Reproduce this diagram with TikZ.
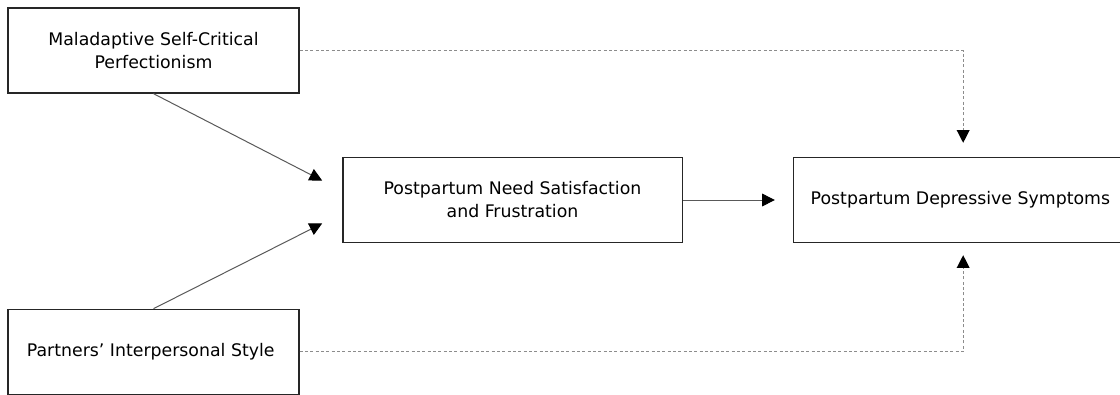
\documentclass[tikz,border=0pt]{standalone}
\usepackage{fontspec}
\setmainfont{DejaVu Sans}
\usetikzlibrary{positioning, arrows.meta, calc}

\begin{document}
\begin{tikzpicture}[
		x=0.75pt,
		y=-0.75pt,
		font=\fontsize{13}{17.25}\selectfont,
		factor/.style={
			rectangle,
			draw=black!85,
			line width=1pt,
			align=center,
			minimum width=218.25pt,
			minimum height=63.75pt,
			inner sep=2pt
		},
		widefactor/.style={
			factor,
			minimum width=254.5pt
		},
		arrow/.style={
			-{Triangle[length=9.5pt, width=9.5pt, color=black]},
			draw=black!65,
			line width=0.75pt
		},
		dottedarrow/.style={
			-{Triangle[length=9.5pt, width=9.5pt, color=black]},
			draw=black!45,
			line width=0.9pt,
			dash pattern=on 2.2pt off 1.8pt
		}
		]
		
		\useasboundingbox (0,0) rectangle (1120,394);
		\clip (0,0) rectangle (1120,394);
		
		\node[factor] (perf) at (153.5,50.5) {
			Maladaptive Self-Critical\\
			Perfectionism
		};
		
		\node[factor, below=161.25pt of perf] (partner) {
			Partners’ Interpersonal Style
		};
		
		\node[widefactor] (need) at (512.5,200) {
			Postpartum Need Satisfaction\\
			and Frustration
		};
		
		\node[widefactor, right=82.5pt of need] (depr) {
			Postpartum Depressive Symptoms
		};
		
		\coordinate (needtop) at ($(need.west)+(-15pt,14.6pt)$);
		\coordinate (needbot) at ($(need.west)+(-15pt,-17.6pt)$);
		
		\draw[arrow] (perf.south) -- (needtop);
		\draw[arrow] (partner.north) -- (needbot);
		\draw[arrow, shorten >=13.5pt] (need) -- (depr);
		
		\draw[dottedarrow, shorten >=10.5pt] (perf.east) -| (depr.north);
		\draw[dottedarrow, shorten >=9pt] (partner.east) -| (depr.south);
		
	\end{tikzpicture}
\end{document}
